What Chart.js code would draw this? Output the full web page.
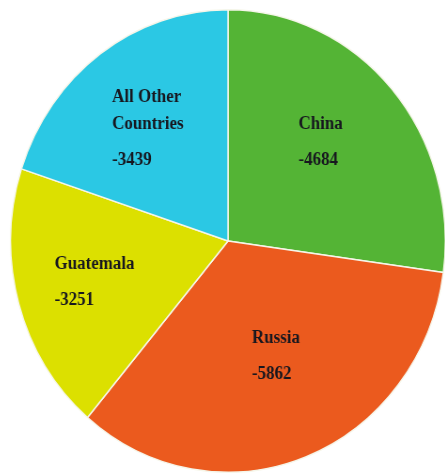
<!DOCTYPE html>
<html>
<head>
<meta charset="utf-8">
<script src="https://cdn.jsdelivr.net/npm/chart.js@4.4.1/dist/chart.umd.min.js"></script>
<style>
html, body { margin: 0; padding: 0; background: #fff; overflow: hidden; }
body { width: 445px; height: 476px; position: relative; }
#wrap {
	position: absolute;
	left: -4px;
	top: 9px;
	width: 464px;
	height: 464px;
	transform: scaleX(0.94);
	transform-origin: 232px 232px;
}
</style>
</head>
<body>
<div id="wrap"><canvas id="pieChart" width="464" height="464"></canvas></div>
<script>

var countries = ['China', 'Russia', 'Guatemala', ['All Other', 'Countries']];
var amounts = [-4684, -5862, -3251, -3439];
var sliceColors = ['#54b435', '#eb5a1e', '#dce000', '#2bc8e4'];


// small hand nudges of each text block (px), the labels in the original aren't exactly centred
var labelNudge = [[-4, -9], [2, -12], [-10, 4], [-5, -2]];

// draws the country name + value inside each slice
var sliceLabels = {
	id: 'sliceLabels',
	afterDatasetsDraw: function(chart) {
		var ctx = chart.ctx;
		var meta = chart.getDatasetMeta(0);
		ctx.save();
		ctx.font = 'bold 18px "Liberation Serif", "Times New Roman", serif';
		ctx.fillStyle = '#17171f';
		ctx.textAlign = 'left';
		ctx.textBaseline = 'middle';

		meta.data.forEach(function(arc, i) {
			var p = arc.getProps(['x', 'y', 'startAngle', 'endAngle', 'outerRadius'], true);
			var mid = (p.startAngle + p.endAngle) / 2;
			var r = p.outerRadius * 0.59;
			var ax = p.x + Math.cos(mid) * r + labelNudge[i][0] / 0.94;
			var ay = p.y + Math.sin(mid) * r + labelNudge[i][1];

			var lines = [].concat(chart.data.labels[i]);
			var valText = String(chart.data.datasets[0].data[i]);
			var w = ctx.measureText(valText).width;
			for (var k = 0; k < lines.length; k++) {
				w = Math.max(w, ctx.measureText(lines[k]).width);
			}
			var total = (lines.length - 1) * 27 + 36;
			var x0 = ax - w / 2;
			var y0 = ay - total / 2;
			for (var k = 0; k < lines.length; k++) {
				ctx.fillText(lines[k], x0, y0 + k * 27);
			}
			ctx.fillText(valText, x0, y0 + (lines.length - 1) * 27 + 36);
		});
		ctx.restore();
	}
};

var ctx = document.getElementById('pieChart');
var chart = new Chart(ctx, {
	type: 'pie',
	data: {
		labels: countries,
		datasets: [{
			data: amounts,
			backgroundColor: sliceColors,
			borderColor: '#f6f6ea',
			borderWidth: 1.5
		}]
	},
	options: {
		responsive: false,
		animation: false,
		devicePixelRatio: 1,
		layout: {
			padding: 0
		},
		plugins: {
			legend: { display: false },
			tooltip: { enabled: false },
			title: { display: false }
		}
	},
	plugins: [sliceLabels]
});
</script>
</body>
</html>
